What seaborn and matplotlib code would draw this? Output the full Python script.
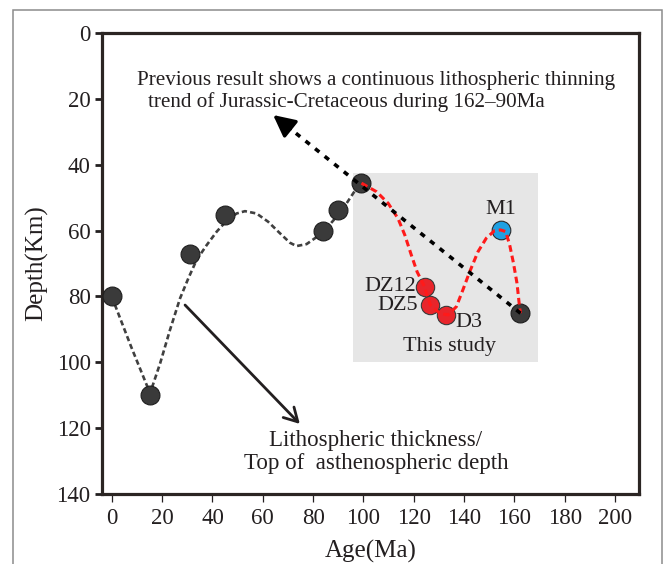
import numpy as np
import pandas as pd
import seaborn as sns
from matplotlib import pyplot as plt
from matplotlib.patches import Rectangle

# points (age in Ma, depth in km)
prev_age = [0, 15, 31, 45, 84, 90, 99, 162]
prev_depth = [80, 110, 67, 55.3, 60, 53.8, 45.6, 85.1]

study_names = ['DZ12', 'DZ5', 'D3']
study_age = [124.6, 126.6, 132.7]
study_depth = [77.0, 82.6, 85.6]

m1_age = [154.5]
m1_depth = [59.8]

# dashed trend curves
trend_age = [0, 7.7, 15.2, 19.2, 23.1, 27.1, 30.4, 33.7, 37.7, 41.7, 45.6, 49.6, 52.9,
             57.5, 62.1, 66.8, 70.8, 73.4, 77.4, 81.3, 85.3, 89.3, 93.3, 97.2, 99.2]
trend_depth = [80.1, 95.3, 109.4, 100.3, 90.2, 80.6, 74.5, 68.9, 64.4, 60.3, 57.0, 54.8, 54.1,
               54.8, 57.3, 60.8, 63.7, 64.7, 64.1, 62.0, 59.3, 55.8, 51.7, 47.2, 45.6]

red_age = [99.2, 105.2, 109.8, 113.7, 116.4, 119.0, 121.3, 123.9, 126.6, 130.3, 133.6, 136.9,
           139.5, 142.2, 145.5, 148.8, 152.1, 154.5, 156.5, 158.1, 159.6, 161.0, 162.0, 162.4]
red_depth = [45.6, 48.2, 51.7, 56.3, 61.3, 67.4, 72.5, 76.5, 82.6, 85.1, 85.6, 83.1,
             78.0, 72.5, 66.4, 62.3, 60.0, 59.8, 60.3, 64.4, 69.9, 76.0, 83.1, 85.1]

# arrows: (start, tip)
prev_arrow = [(162.4, 85.1), (64.1, 24.9)]
litho_arrow = [(29.1, 82.6), (74.7, 118.7)]

x_ticks = list(range(0, 201, 20))
y_ticks = list(range(0, 141, 20))

sns.set_theme(style='ticks')
plt.rcParams['font.family'] = ['Liberation Serif', 'DejaVu Serif']
ink = '#231f20'

fig = plt.figure(figsize=(6.65, 5.64), dpi=100)
ax = fig.add_axes([0.153, 0.124, 0.808, 0.8175])

# grey "this study" box
ax.add_patch(Rectangle((95.7, 42.6), 73.5, 57.3, facecolor='#e6e6e6', edgecolor='none', zorder=0))

sns.lineplot(x=trend_age, y=trend_depth, sort=False, estimator=None, ax=ax,
             color='#404040', linewidth=1.9, linestyle=(0, (2, 1.2)), zorder=2)
sns.scatterplot(x=prev_age, y=prev_depth, ax=ax, s=185, color='#3a3a3a',
                edgecolor='#1e1e1e', linewidth=0.8, zorder=3)
sns.scatterplot(x=study_age, y=study_depth, ax=ax, s=175, color='#e8252b',
                edgecolor='#3a3a3a', linewidth=0.8, zorder=3)
sns.scatterplot(x=m1_age, y=m1_depth, ax=ax, s=180, color='#1fa0e2',
                edgecolor='#2a2a2a', linewidth=0.8, zorder=3)
sns.lineplot(x=red_age, y=red_depth, sort=False, estimator=None, ax=ax,
             color='#ff1a1a', linewidth=2.2, linestyle=(0, (2.2, 1.3)), zorder=4)

# previous-result arrow: dotted shaft + solid filled head
(x0, y0), (x1, y1) = prev_arrow
t = 0.93
xb, yb = x1 + (1 - t) * (x0 - x1), y1 + (1 - t) * (y0 - y1)
ax.plot([x0, xb], [y0, yb], color='black', lw=2.6, linestyle=(0, (1.5, 1.9)), zorder=5)
ax.annotate('', xy=(x1, y1), xytext=(xb, yb),
            arrowprops=dict(arrowstyle='-|>,head_length=1.1,head_width=0.55', color='black',
                            lw=2.4, shrinkA=0, shrinkB=0), zorder=5)
# lithosphere arrow
ax.annotate('', xy=litho_arrow[1], xytext=litho_arrow[0],
            arrowprops=dict(arrowstyle='->,head_length=0.8,head_width=0.45', color=ink,
                            lw=2.0, shrinkA=0, shrinkB=0), zorder=5)

# labels
ax.text(154.5, 53.5, 'M1', fontsize=16, ha='center', va='center', color=ink)
for name, xa, ya, ha in zip(study_names, [121.0, 121.7, 136.6], [77.0, 82.8, 87.9],
                            ['right', 'right', 'left']):
    ax.text(xa, ya, name, fontsize=16, ha=ha, va='center', color=ink)
ax.text(134.2, 95.1, 'This study', fontsize=16, ha='center', va='center', color=ink)

ax.text(10.0, 14.3, 'Previous result shows a continuous lithospheric thinning',
        fontsize=15.2, ha='left', va='center', color=ink)
ax.text(14.4, 20.9, 'trend of Jurassic-Cretaceous during 162\u201390Ma',
        fontsize=15.2, ha='left', va='center', color=ink)
ax.text(104.9, 123.6, 'Lithospheric thickness/', fontsize=16.5, ha='center', va='center', color=ink)
ax.text(104.9, 130.6, 'Top of  asthenospheric depth', fontsize=16.5, ha='center', va='center', color=ink)

ax.set_xlim(-4, 209.5)
ax.set_ylim(140, 0)
ax.set_xticks(x_ticks)
ax.set_yticks(y_ticks)
ax.set_xlabel('Age(Ma)', fontsize=18, color=ink, labelpad=8)
ax.set_ylabel('Depth(Km)', fontsize=18, color=ink, labelpad=6)
ax.tick_params(axis='x', direction='out', length=6, width=0.9, color=ink,
               labelsize=16.5, labelcolor=ink, pad=4)
ax.tick_params(axis='y', direction='out', length=5, width=2.0, color=ink,
               labelsize=16.5, labelcolor=ink, pad=3)
for side in ['left', 'right', 'top', 'bottom']:
    ax.spines[side].set_visible(True)
    ax.spines[side].set_linewidth(2.3)
    ax.spines[side].set_color('#2b2523')

# outer frame of the original figure
fig.add_artist(Rectangle((13 / 665, -0.05), (661.7 - 13) / 665, 1.05 - 9.5 / 564,
                         transform=fig.transFigure, fill=False, edgecolor='#8c8c8c', lw=1.1))

fig.savefig('out.png', dpi=100)
